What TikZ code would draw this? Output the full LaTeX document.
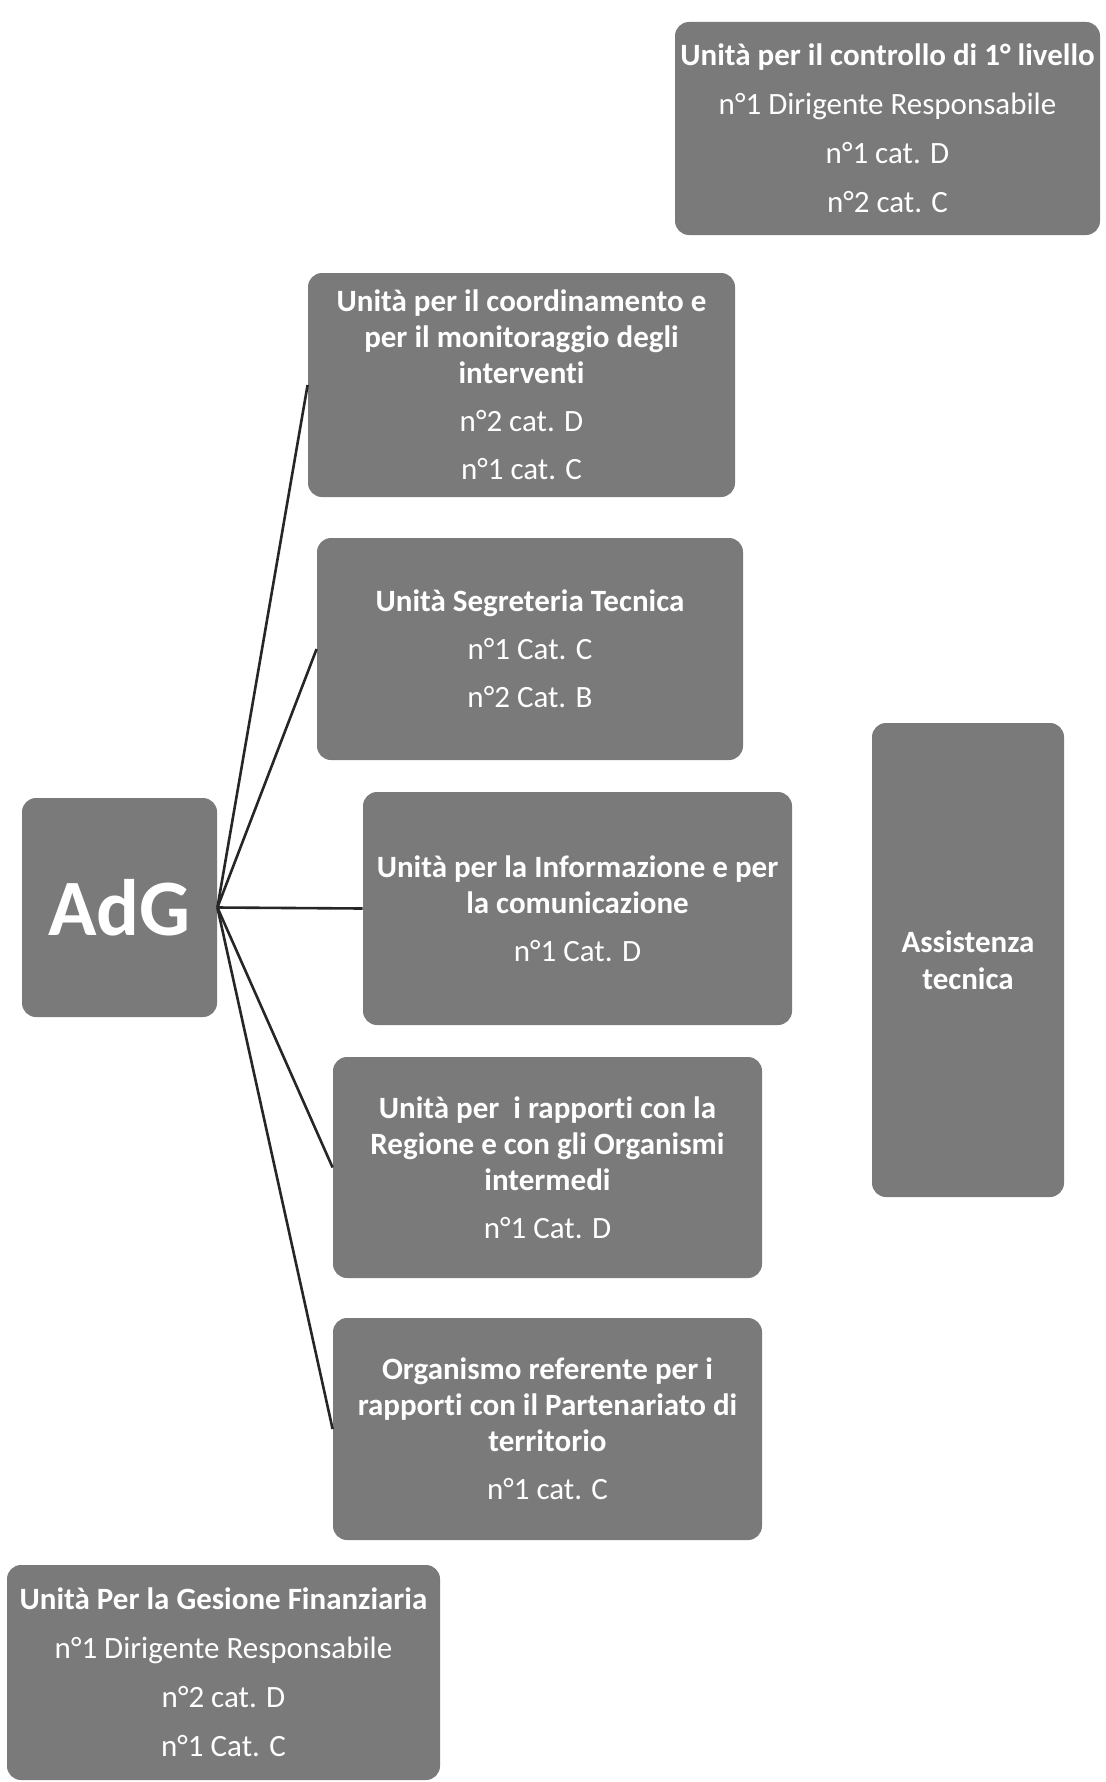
\documentclass[tikz,border=0pt]{standalone}
\usepackage{fontspec}
\setmainfont{Carlito}[Ligatures=NoCommon]
\usepackage{tikz}
\begin{document}
\begin{tikzpicture}[x=0.5pt,y=-0.5pt,
    box/.style={fill=black!52,text=white,rounded corners=7pt,align=center,
      inner sep=0pt,font=\fontsize{15.5}{18}\selectfont},
    link/.style={line width=1.3pt,black!85}]
  \useasboundingbox (0,0) rectangle (1106,1782);
  \node[box,minimum width=212.5pt,minimum height=106.5pt] (K) at (887.5,128.5)
    {\textbf{Unità per il controllo di 1° livello}\\[6.5pt] n°1 Dirigente Responsabile\\[6.5pt] n°1 cat. D\\[6.5pt] n°2 cat. C};
  \node[box,minimum width=213.5pt,minimum height=112pt] (U1) at (521.5,385)
    {\textbf{Unità per il coordinamento e}\\ \textbf{per il monitoraggio degli}\\ \textbf{interventi}\\[6pt] n°2 cat. D\\[6pt] n°1 cat. C};
  \node[box,minimum width=213pt,minimum height=111pt] (U2) at (530,649)
    {\textbf{Unità Segreteria Tecnica}\\[6pt] n°1 Cat. C\\[6pt] n°2 Cat. B};
  \node[box,minimum width=214.5pt,minimum height=116.5pt] (U3) at (577.5,908.5)
    {\textbf{Unità per la Informazione e per}\\ \textbf{la comunicazione}\\[6pt] n°1 Cat. D};
  \node[box,minimum width=214.5pt,minimum height=110.5pt] (U4) at (547.5,1167.5)
    {\textbf{Unità per\ \ i rapporti con la}\\ \textbf{Regione e con gli Organismi}\\ \textbf{intermedi}\\[6pt] n°1 Cat. D};
  \node[box,minimum width=214.5pt,minimum height=111pt] (U5) at (547.5,1429)
    {\textbf{Organismo referente per i}\\ \textbf{rapporti con il Partenariato di}\\ \textbf{territorio}\\[6pt] n°1 cat. C};
  \node[box,minimum width=97.5pt,minimum height=109.5pt,font=\fontsize{40}{44}\selectfont\bfseries] (A) at (119.5,907.5) {AdG};
  \node[box,minimum width=96pt,minimum height=237pt,font=\fontsize{15.5}{18.5}\selectfont\bfseries] (T) at (968,960)
    {Assistenza\\ tecnica};
  \node[box,minimum width=216.5pt,minimum height=107.5pt] (F) at (223.5,1672.5)
    {\textbf{Unità Per la Gesione Finanziaria}\\[6.5pt] n°1 Dirigente Responsabile\\[6.5pt] n°2 cat. D\\[6.5pt] n°1 Cat. C};
  \draw[link] (A.east) -- (U1.west);
  \draw[link] (A.east) -- (U2.west);
  \draw[link] (A.east) -- (U3.west);
  \draw[link] (A.east) -- (U4.west);
  \draw[link] (A.east) -- (U5.west);
\end{tikzpicture}
\end{document}
